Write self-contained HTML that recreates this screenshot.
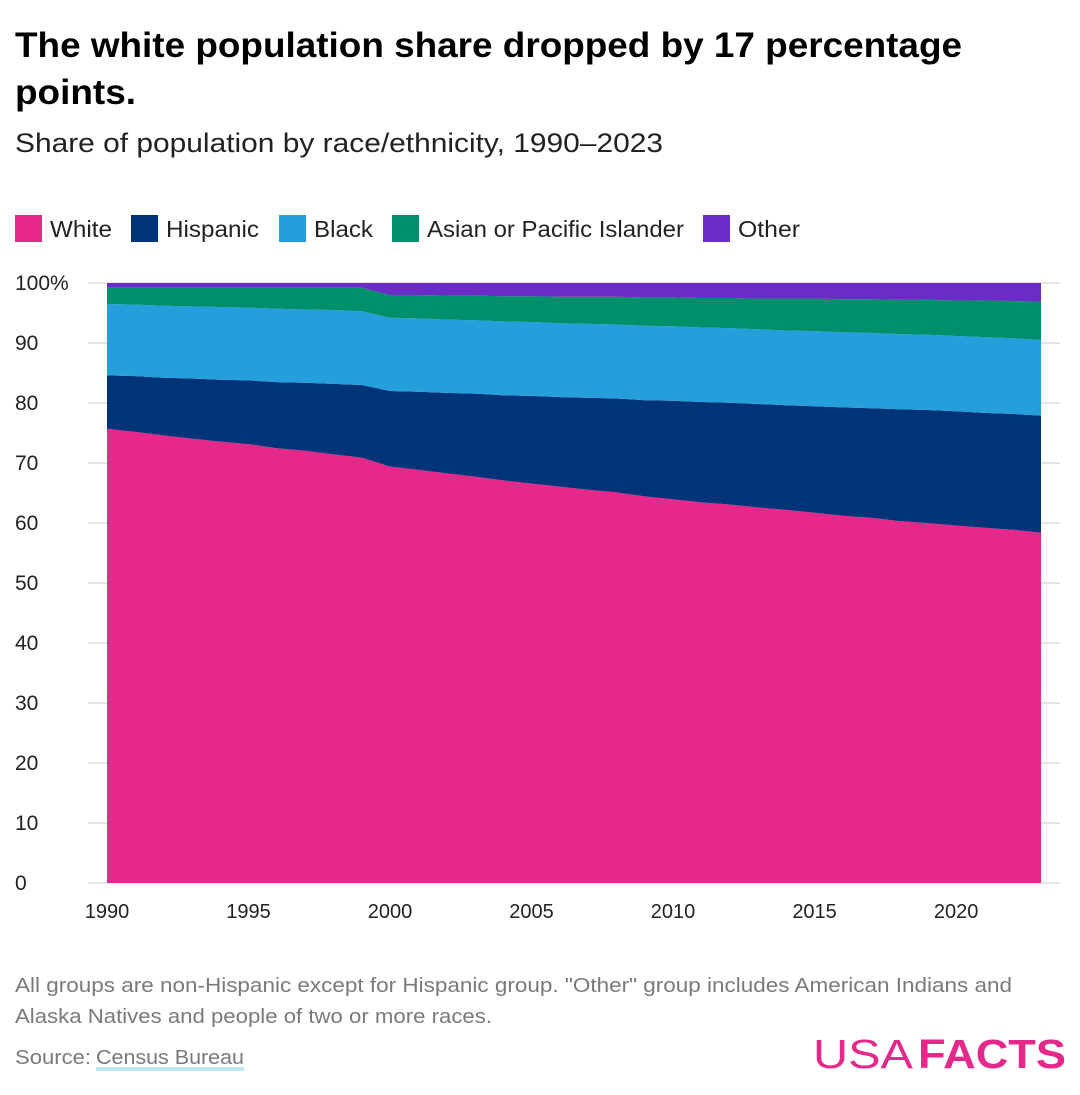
<!DOCTYPE html>
<html><head><meta charset="utf-8"><style>
body{margin:0;background:#fff;width:1080px;height:1090px;overflow:hidden}
svg text{font-family:"Liberation Sans",sans-serif}
</style></head><body>
<svg id="c" width="1080" height="1090" xmlns="http://www.w3.org/2000/svg">
<text x="15" y="57" font-size="35" font-weight="bold" fill="#000" textLength="947" lengthAdjust="spacingAndGlyphs">The white population share dropped by 17 percentage</text>
<text x="15" y="104" font-size="35" font-weight="bold" fill="#000" textLength="121" lengthAdjust="spacingAndGlyphs">points.</text>
<text x="15" y="152" font-size="27" fill="#222" textLength="648" lengthAdjust="spacingAndGlyphs">Share of population by race/ethnicity, 1990–2023</text>
<g id="legend"></g>
<g id="grid"></g>
<g id="areas"></g>
<g id="axes"></g>
<text x="15" y="992" font-size="20" fill="#7a7a7a" textLength="997" lengthAdjust="spacingAndGlyphs">All groups are non-Hispanic except for Hispanic group. "Other" group includes American Indians and</text>
<text x="15" y="1023" font-size="20" fill="#7a7a7a" textLength="477" lengthAdjust="spacingAndGlyphs">Alaska Natives and people of two or more races.</text>
<text x="15" y="1064" font-size="20" fill="#7a7a7a" textLength="76" lengthAdjust="spacingAndGlyphs">Source:</text>
<rect x="96" y="1067" width="148" height="4" fill="#c4e3f0"/>
<text x="96" y="1064" font-size="20" fill="#7a7a7a" textLength="148" lengthAdjust="spacingAndGlyphs">Census Bureau</text>
<text x="813" y="1068" font-size="41" fill="#e6288a" textLength="100" lengthAdjust="spacingAndGlyphs">USA</text>
<text x="918" y="1068" font-size="41" font-weight="bold" fill="#e6288a" textLength="148" lengthAdjust="spacingAndGlyphs">FACTS</text>
</svg>
<script>
const years=[1990,1991,1992,1993,1994,1995,1996,1997,1998,1999,2000,2001,2002,2003,2004,2005,2006,2007,2008,2009,2010,2011,2012,2013,2014,2015,2016,2017,2018,2019,2020,2021,2022,2023];
const white=[75.7,75.1,74.6,74.0,73.5,73.0,72.4,71.9,71.4,70.9,69.4,68.8,68.2,67.6,67.1,66.5,66.0,65.4,64.9,64.3,63.8,63.3,62.9,62.4,62.0,61.6,61.1,60.7,60.2,59.8,59.4,59.1,58.8,58.4];
const hispanic=[8.9,9.3,9.6,10.0,10.3,10.6,11.0,11.3,11.7,12.1,12.6,13.0,13.4,13.8,14.2,14.6,14.9,15.3,15.6,16.0,16.4,16.7,16.9,17.2,17.4,17.7,18.0,18.2,18.6,18.8,19.0,19.1,19.3,19.5];
const black=[11.9,11.9,12.0,12.0,12.1,12.1,12.2,12.2,12.3,12.3,12.2,12.2,12.2,12.2,12.3,12.3,12.3,12.3,12.3,12.4,12.4,12.4,12.4,12.4,12.4,12.5,12.5,12.5,12.5,12.5,12.5,12.6,12.6,12.6];
const asian=[2.7,2.8,3.0,3.1,3.2,3.3,3.5,3.6,3.7,3.9,3.8,3.9,4.0,4.1,4.2,4.3,4.4,4.5,4.6,4.7,4.8,4.9,5.0,5.1,5.3,5.4,5.5,5.6,5.7,5.8,5.9,6.1,6.2,6.4];
const other=[0.8,0.8,0.8,0.8,0.8,0.8,0.8,0.8,0.8,0.8,2.0,2.0,2.1,2.1,2.2,2.2,2.3,2.3,2.3,2.4,2.4,2.5,2.5,2.6,2.6,2.6,2.7,2.7,2.8,2.8,2.9,2.9,3.0,3.1];
const seriesNames=["White","Hispanic","Black","Asian or Pacific Islander","Other"];
const yTicks=[0,10,20,30,40,50,60,70,80,90,100];
const yTickLabels=["0","10","20","30","40","50","60","70","80","90","100%"];
const xTicks=[1990,1995,2000,2005,2010,2015,2020];

const NS="http://www.w3.org/2000/svg";
const colors=["#e6288a","#003478","#249fdc","#008f6b","#6b2bc6"];
const X0=107,X1=1041,Y0=883,Y1=283;
const x=v=>X0+(v-years[0])/(years[years.length-1]-years[0])*(X1-X0);
const y=v=>Y0-v/100*(Y0-Y1);
function mk(tag,attrs,parent){const e=document.createElementNS(NS,tag);for(const k in attrs)e.setAttribute(k,attrs[k]);parent.appendChild(e);return e;}

const grid=document.getElementById('grid'),axes=document.getElementById('axes');
yTicks.forEach((t,i)=>{
  const l=mk('line',{x1:88,x2:1060,y1:y(t),y2:y(t),stroke:'#dcdcdc','stroke-width':1.5},grid);
  
  
  const tx=mk('text',{x:15,y:y(t)+7,'font-size':21,fill:'#222'},axes);
  tx.textContent=yTickLabels[i];
  
  
});
xTicks.forEach(t=>{
  const tx=mk('text',{x:x(t),y:918,'font-size':20,fill:'#222','text-anchor':'middle'},axes);
  tx.textContent=t;
  
  
});

const series=[white,hispanic,black,asian,other];
const areas=document.getElementById('areas');
const totals=years.map((_,i)=>series.reduce((a,s)=>a+s[i],0));
let base=years.map(()=>0);
series.forEach((s,si)=>{
  const top=base.map((b,i)=>b+s[i]*100/totals[i]);
  let d='M'+years.map((yr,i)=>x(yr).toFixed(1)+','+y(top[i]).toFixed(1)).join('L');
  for(let i=years.length-1;i>=0;i--)d+='L'+x(years[i]).toFixed(1)+','+y(base[i]).toFixed(1);
  d+='Z';
  const p=mk('path',{d:d,fill:colors[si]},areas);
  
  
  base=top;
});

const leg=document.getElementById('legend');
const legX=[15,131,279,392,703],legW=[62,93,59,257,62];
seriesNames.forEach((n,i)=>{
  const r=mk('rect',{x:legX[i],y:215,width:27,height:27,fill:colors[i]},leg);
  
  
  const t=mk('text',{x:legX[i]+35,y:237,'font-size':23,fill:'#222',textLength:legW[i],lengthAdjust:'spacingAndGlyphs'},leg);
  t.textContent=n;
  
  
});
</script>
</body></html>
